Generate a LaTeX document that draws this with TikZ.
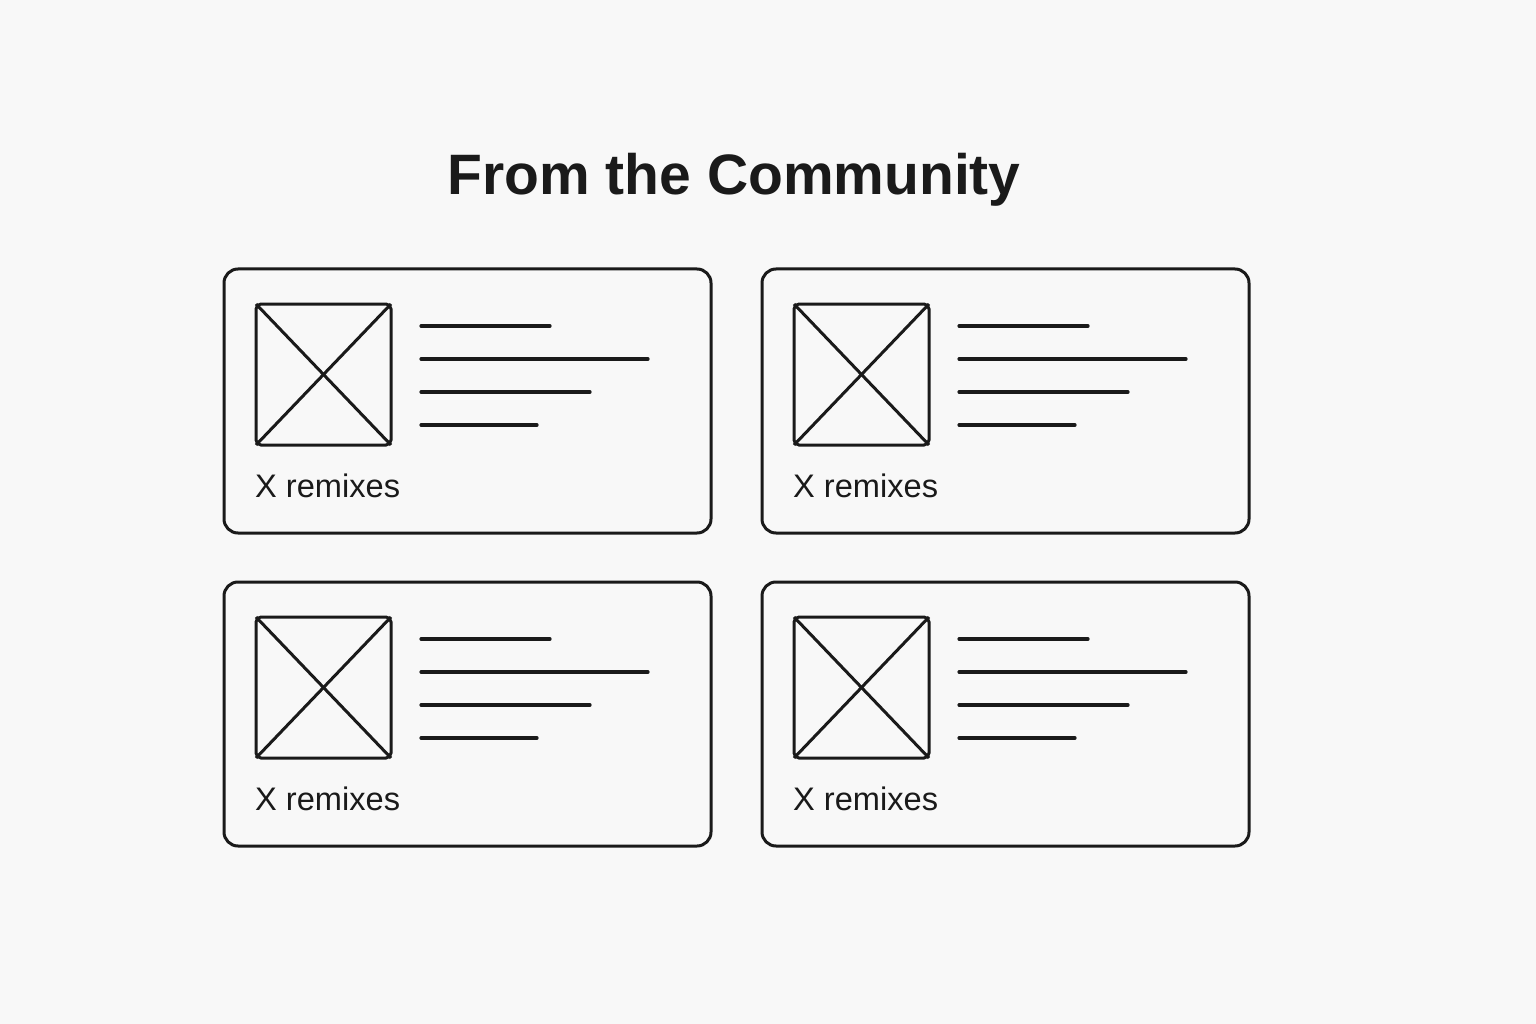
\documentclass[tikz,border=0pt]{standalone}
\usepackage{fontspec}
\setmainfont{Liberation Sans}
\definecolor{bg}{HTML}{F8F8F8}
\definecolor{ink}{HTML}{1A1A1A}
\begin{document}
\begin{tikzpicture}[x=1pt,y=-1pt,
  card/.style={draw=ink,line width=3pt,rounded corners=14pt},
  thumb/.style={draw=ink,line width=3pt,rounded corners=5pt},
  cross/.style={draw=ink,line width=3pt},
  textline/.style={draw=ink,line width=3.2pt,line cap=round},
  caption/.style={anchor=base west,inner sep=0pt,text=ink,font=\fontsize{32.6}{40}\selectfont},
  heading/.style={anchor=base,inner sep=0pt,text=ink,font=\fontsize{57}{68}\selectfont\bfseries}]
\fill[bg] (0,0) rectangle (1536,1024);
\useasboundingbox (0,0) rectangle (1536,1024);

\node[heading] (title) at (734,195) {From the Community};

% each card: name and top-left corner
\foreach \n/\cx/\cy in {a/224/269, b/762/269, c/224/582, d/762/582}{
  \draw[card] (\cx,\cy) rectangle ++(487,264);
  \coordinate (\n-tl) at (\cx+32,\cy+35);
  \coordinate (\n-br) at (\cx+167,\cy+176);
  \draw[thumb] (\n-tl) rectangle (\n-br);
  \draw[cross] (\n-tl) -- (\n-br);
  \draw[cross] (\n-tl -| \n-br) -- (\n-tl |- \n-br);
  \draw[textline] (\cx+197,\cy+57) -- ++(129,0);
  \draw[textline] (\cx+197,\cy+90) -- ++(227,0);
  \draw[textline] (\cx+197,\cy+123) -- ++(169,0);
  \draw[textline] (\cx+197,\cy+156) -- ++(116,0);
  \node[caption] (\n-cap) at (\cx+31,\cy+228) {X remixes};
}
\end{tikzpicture}
\end{document}
